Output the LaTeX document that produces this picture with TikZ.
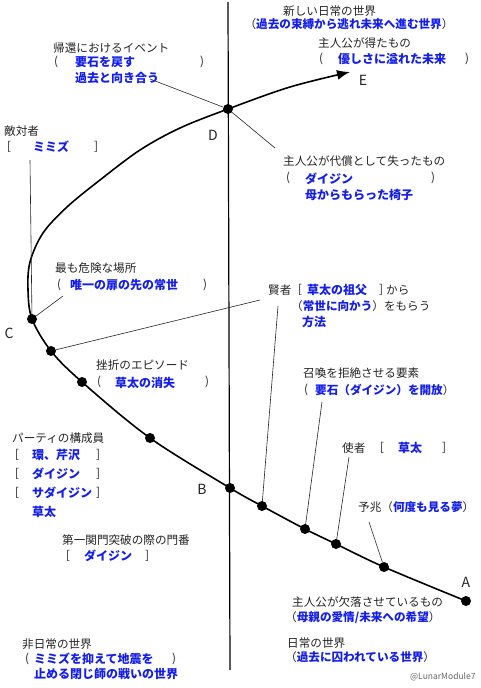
\documentclass[tikz,border=0pt]{standalone}
\usepackage{fontspec}
\newfontfamily\jp{Noto Sans CJK JP}
\usetikzlibrary{arrows.meta}

\definecolor{ansblue}{RGB}{20,30,235}
\definecolor{ink}{RGB}{35,35,35}
\newcommand{\ans}[1]{\textcolor{ansblue}{\bfseries #1}}

\tikzset{
    lbl/.style={anchor=west, inner sep=0pt, text=ink, font=\jp\fontsize{11.6}{13}\selectfont},
    ansl/.style={anchor=west, inner sep=0pt, text=ansblue, font=\jp\bfseries\fontsize{12}{13}\selectfont},
    brk/.style={inner sep=0pt, text=ink, font=\jp\fontsize{11.6}{13}\selectfont},
    stop/.style={circle, fill=black, inner sep=0pt, minimum size=10pt},
    stoplbl/.style={inner sep=0pt, text=ink, font=\jp\fontsize{14}{14}\selectfont},
    leader/.style={draw=ink, line width=0.6pt},
}

\begin{document}
\begin{tikzpicture}[x=1pt, y=-1pt]
        \useasboundingbox (0, 0) rectangle (480, 688);

        % points on the journey
        \coordinate (cA) at (466, 601);
        \coordinate (c1) at (384, 567);
        \coordinate (c2) at (336, 544);
        \coordinate (c3) at (305, 529);
        \coordinate (c4) at (262, 506);
        \coordinate (cB) at (230, 488);
        \coordinate (c6) at (150, 438);
        \coordinate (c7) at (82, 382);
        \coordinate (c8) at (51, 351);
        \coordinate (cC) at (32, 319);
        \coordinate (cD) at (228, 109);
        \coordinate (cE) at (350, 72);

        % the border between the two worlds
        \coordinate (axtop) at (228, 2);
        \coordinate (axbot) at (230, 670);
        \draw [line width=1.2pt] (axtop) -- (axbot);

        \draw [line width=1.6pt, -{Latex[length=13pt, width=10pt]}] plot [smooth, tension=0.55] coordinates {
            (cA) (c1) (c2) (c3) (c4) (cB) (c6) (c7) (c8) (cC)
            (28, 290) (30, 262) (43, 233) (67, 207) (100, 180) (140, 150) (180, 128)
            (cD) (290, 87) (cE)};

        \node [stop] (A) at (cA) {};
        \node [stop] (omen) at (c1) {};
        \node [stop] (herald) at (c2) {};
        \node [stop] (refusal) at (c3) {};
        \node [stop] (mentor) at (c4) {};
        \node [stop] (B) at (cB) {};
        \node [stop] (party) at (c6) {};
        \node [stop] (ordeal) at (c7) {};
        \node [stop] (gift) at (c8) {};
        \node [stop] (C) at (cC) {};
        \node [stop] (D) at (cD) {};

        \node [stoplbl] (Alabel) at (466, 582) {A};
        \node [stoplbl] (Blabel) at (202, 489) {B};
        \node [stoplbl] (Clabel) at (9, 333) {C};
        \node [stoplbl] (Dlabel) at (213, 135) {D};
        \node [stoplbl] (Elabel) at (363, 80) {E};

        % free ends of the leaders
        \coordinate (returnend) at (150, 79);
        \coordinate (lossend) at (275, 148);
        \coordinate (enemyend) at (30, 160);
        \coordinate (dangerend) at (63, 296);
        \coordinate (sageend) at (260, 300);
        \coordinate (sageend2) at (278, 306);
        \coordinate (refuseend) at (322, 402);
        \coordinate (heraldend) at (349, 457);
        \coordinate (omenend) at (369, 522);

        \draw [leader] (returnend) -- (D);
        \draw [leader] (D) -- (lossend);
        \draw [leader] (enemyend) -- (C);
        \draw [leader] (dangerend) -- (C);
        \draw [leader] (gift) -- (sageend);
        \draw [leader] (sageend2) -- (mentor);
        \draw [leader] (refuseend) -- (refusal);
        \draw [leader] (heraldend) -- (herald);
        \draw [leader] (omenend) -- (omen);

        % new ordinary world
        \node [lbl] (newworld) at (283, 11) {新しい日常の世界};
        \node [lbl, anchor=center] (newworld2) at (349, 24) {（\ans{過去の束縛から逃れ未来へ進む世界}）};
        \node [lbl] (gain) at (318, 43) {主人公が得たもの};
        \node [brk] (gainl) at (321, 59) {(};
        \node [ansl] (gain2) at (338, 59) {優しさに溢れた未来};
        \node [brk] (gainr) at (467, 59) {)};

        % return
        \node [lbl] (return) at (53, 48) {帰還におけるイベント};
        \node [brk] (returnl) at (56, 62) {(};
        \node [ansl] (return2) at (75, 62) {要石を戻す};
        \node [brk] (returnr) at (202, 62) {)};
        \node [ansl] (return3) at (75, 78) {過去と向き合う};

        \node [lbl] (enemy) at (4, 131) {敵対者};
        \node [brk] (enemyl) at (9, 147) {[};
        \node [ansl] (enemy2) at (33, 147) {ミミズ};
        \node [brk] (enemyr) at (96, 147) {]};

        \node [lbl] (loss) at (283, 161) {主人公が代償として失ったもの};
        \node [brk] (lossl) at (288, 178) {(};
        \node [ansl] (loss2) at (305, 179) {ダイジン};
        \node [brk] (lossr) at (433, 178) {)};
        \node [ansl] (loss3) at (305, 195) {母からもらった椅子};

        \node [lbl] (danger) at (55, 268) {最も危険な場所};
        \node [brk] (dangerl) at (59, 285) {(};
        \node [ansl] (danger2) at (70, 285) {唯一の扉の先の常世};
        \node [brk] (dangerr) at (205, 285) {)};

        % mentor
        \node [lbl] (sage) at (268, 290) {賢者};
        \node [brk] (sagel) at (300, 290) {[};
        \node [ansl] (sage2) at (307, 290) {草太の祖父};
        \node [brk] (sager) at (381, 290) {]};
        \node [lbl] (sage3) at (386, 290) {から};
        \node [lbl] (sage4) at (291, 306) {（\ans{常世に向かう}）をもらう};
        \node [ansl] (sage5) at (302, 322) {方法};

        \node [lbl] (ordeal1) at (96, 365) {挫折のエピソード};
        \node [brk] (ordeall) at (99, 382) {(};
        \node [ansl] (ordeal2) at (115, 383) {草太の消失};
        \node [brk] (ordealr) at (207, 382) {)};

        \node [lbl] (refuse) at (303, 373) {召喚を拒絶させる要素};
        \node [brk] (refusel) at (306, 390) {(};
        \node [lbl] (refuse2) at (315, 390) {\ans{要石（ダイジン）を開放}）};

        \node [lbl] (herald1) at (342, 448) {使者};
        \node [brk] (heraldl) at (382, 448) {[};
        \node [ansl] (herald2) at (398, 448) {草太};
        \node [brk] (heraldr) at (444, 448) {]};

        \node [lbl] (omen1) at (358, 507) {予兆（\ans{何度も見る夢}）};

        % party
        \node [lbl] (party1) at (12, 438) {パーティの構成員};
        \node [brk] (partyl1) at (17, 455) {[};
        \node [ansl] (party2) at (32, 455) {環、芹沢};
        \node [brk] (partyr1) at (98, 455) {]};
        \node [brk] (partyl2) at (17, 474) {[};
        \node [ansl] (party3) at (32, 474) {ダイジン};
        \node [brk] (partyr2) at (98, 474) {]};
        \node [brk] (partyl3) at (17, 493) {[};
        \node [ansl] (party4) at (32, 493) {サダイジン};
        \node [brk] (partyr3) at (98, 493) {]};
        \node [ansl] (party5) at (32, 512) {草太};

        \node [lbl] (guard) at (62, 540) {第一関門突破の際の門番};
        \node [brk] (guardl) at (68, 556) {[};
        \node [ansl] (guard2) at (84, 556) {ダイジン};
        \node [brk] (guardr) at (147, 556) {]};

        % the two worlds
        \node [lbl] (special) at (22, 644) {非日常の世界};
        \node [brk] (speciall) at (27, 659) {(};
        \node [ansl] (special2) at (34, 659) {ミミズを抑えて地震を};
        \node [brk] (specialr) at (174, 659) {)};
        \node [ansl] (special3) at (34, 674) {止める閉じ師の戦いの世界};

        \node [lbl] (lack) at (292, 602) {主人公が欠落させているもの};
        \node [lbl] (lack2) at (285, 618) {（\ans{母親の愛情/未来への希望}）};
        \node [lbl] (ordinary) at (287, 643) {日常の世界};
        \node [lbl] (ordinary2) at (285, 657) {（\ans{過去に囚われている世界}）};

        \node [lbl, text=black!60, font=\jp\fontsize{8.5}{9}\selectfont] (credit) at (410, 677) {@LunarModule7};
    \end{tikzpicture}
\end{document}
